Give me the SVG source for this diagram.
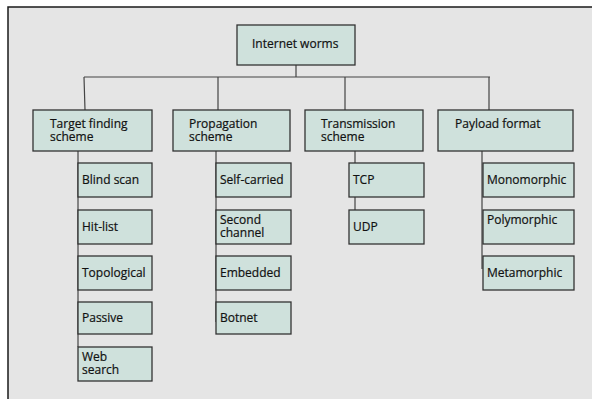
<svg xmlns="http://www.w3.org/2000/svg" width="592" height="399" viewBox="0 0 592 399">
<style>
.bg{fill:#e5e5e5}
.frame{fill:none;stroke:#1a1a1a;stroke-width:1.5}
.box{fill:#cfe1dc;stroke:#333;stroke-width:1.3}
.t{font-family:"Open Sans","Liberation Sans",sans-serif;font-size:12px;fill:#111;stroke:#111;stroke-width:0.2}
.c{fill:none;stroke:#444;stroke-width:1.2}
</style>
<rect x="0" y="0" width="592" height="399" fill="#fff"/>
<rect class="bg" x="8" y="7" width="584" height="392"/>
<path class="frame" d="M8,399 V7 H592"/>
<g id="connectors">
<path class="c" d="M296,65 V77 M84,77 H490 M84,77 L85,110 M218,77 V110 M345,77 V110 M489,77 V110"/>
<path class="c" d="M78,151 V347 M216,151 V322 M355,151 V210 M482,151 V269"/>
</g>
<g id="root"><rect class="box" x="237" y="25" width="118" height="40"/><text class="t" x="252" y="48">Internet worms</text></g>
<g id="target"><rect class="box" x="33" y="110" width="119" height="41"/><text class="t" x="50" y="128">Target finding</text><text class="t" x="50" y="141">scheme</text></g>
<g id="propagation"><rect class="box" x="173" y="110" width="117" height="41"/><text class="t" x="189" y="128">Propagation</text><text class="t" x="189" y="141">scheme</text></g>
<g id="transmission"><rect class="box" x="305" y="110" width="118" height="41"/><text class="t" x="321" y="128">Transmission</text><text class="t" x="321" y="141">scheme</text></g>
<g id="payload"><rect class="box" x="438" y="110" width="135" height="41"/><text class="t" x="455" y="128">Payload format</text></g>
<g id="blind"><rect class="box" x="78" y="163" width="74" height="34"/><text class="t" x="82" y="184">Blind scan</text></g>
<g id="hitlist"><rect class="box" x="78" y="210" width="74" height="34"/><text class="t" x="82" y="231">Hit-list</text></g>
<g id="topological"><rect class="box" x="78" y="256" width="74" height="34"/><text class="t" x="82" y="277">Topological</text></g>
<g id="passive"><rect class="box" x="78" y="302" width="74" height="32"/><text class="t" x="82" y="322">Passive</text></g>
<g id="websearch"><rect class="box" x="78" y="347" width="74" height="34"/><text class="t" x="82" y="361">Web</text><text class="t" x="82" y="374">search</text></g>
<g id="selfcarried"><rect class="box" x="216" y="163" width="75" height="34"/><text class="t" x="220" y="184">Self-carried</text></g>
<g id="secondchannel"><rect class="box" x="216" y="210" width="75" height="34"/><text class="t" x="220" y="224">Second</text><text class="t" x="220" y="237">channel</text></g>
<g id="embedded"><rect class="box" x="216" y="256" width="75" height="34"/><text class="t" x="220" y="277">Embedded</text></g>
<g id="botnet"><rect class="box" x="216" y="302" width="75" height="32"/><text class="t" x="220" y="322">Botnet</text></g>
<g id="tcp"><rect class="box" x="349" y="163" width="75" height="34"/><text class="t" x="353" y="184">TCP</text></g>
<g id="udp"><rect class="box" x="349" y="210" width="75" height="34"/><text class="t" x="353" y="231">UDP</text></g>
<g id="mono"><rect class="box" x="483" y="163" width="91" height="34"/><text class="t" x="487" y="184">Monomorphic</text></g>
<g id="poly"><rect class="box" x="483" y="210" width="91" height="34"/><text class="t" x="487" y="224">Polymorphic</text></g>
<g id="meta"><rect class="box" x="483" y="256" width="91" height="34"/><text class="t" x="487" y="277">Metamorphic</text></g>
</svg>
